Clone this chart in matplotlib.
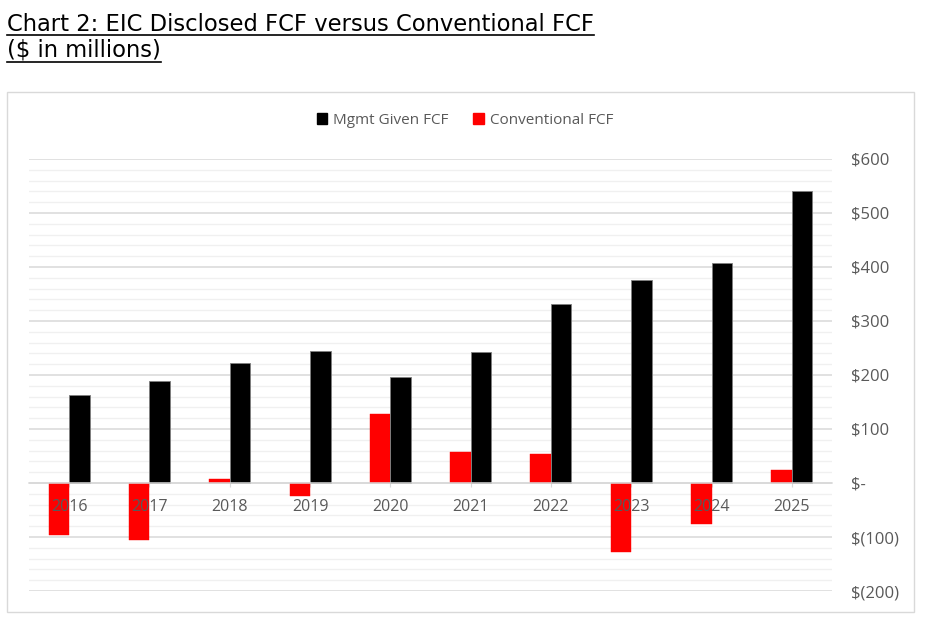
import matplotlib
matplotlib.use('Agg')
import matplotlib.pyplot as plt
import matplotlib.patches as mpatches
from matplotlib.lines import Line2D
from matplotlib.ticker import MultipleLocator, FuncFormatter
import numpy as np

# ===== data =====
years = ['2016', '2017', '2018', '2019', '2020', '2021', '2022', '2023', '2024', '2025']
mgmt_fcf = [163, 189, 222, 245, 197, 243, 331, 376, 407, 541]
conv_fcf = [-96, -105, 7, -24, 127, 58, 54, -127, -76, 24]

GRAY_TXT = '#595959'
plt.rcParams['font.family'] = ['Open Sans', 'DejaVu Sans']


def dollar_fmt(v, pos):
    v = int(round(v))
    if v == 0:
        return '$-'
    if v < 0:
        return f'$({abs(v)})'
    return f'${v}'


fig = plt.figure(figsize=(9.31, 6.21), dpi=100)
fig.patch.set_facecolor('white')
W, H = 931, 621

# chart border
fig.add_artist(mpatches.Rectangle((7 / W, 1 - 612 / H), (914 - 7) / W, (612 - 92) / H,
                                  transform=fig.transFigure, fill=False,
                                  edgecolor='#D9D9D9', linewidth=1))

ax = fig.add_axes([29 / W, 1 - 591 / H, (832 - 29) / W, (591 - 159) / H])
x = np.arange(len(years))
bw = 0.255
ax.bar(x - bw / 2, conv_fcf, bw, color='#FF0000', edgecolor='#FF0000', linewidth=0.3,
       label='Conventional FCF', zorder=3)
ax.bar(x + bw / 2, mgmt_fcf, bw, color='black', edgecolor='#7F7F7F', linewidth=0.6,
       label='Mgmt Given FCF', zorder=3)

ax.set_xlim(-0.5, len(years) - 0.5)
ax.set_ylim(-200, 600)
ax.yaxis.set_major_locator(MultipleLocator(100))
ax.yaxis.set_minor_locator(MultipleLocator(20))
ax.yaxis.set_major_formatter(FuncFormatter(dollar_fmt))
ax.yaxis.tick_right()
ax.tick_params(axis='y', which='both', length=0, pad=14, labelsize=12, labelcolor=GRAY_TXT)
for lab in ax.get_yticklabels():
    lab.set_horizontalalignment('left')
ax.grid(axis='y', which='major', color='#D9D9D9', linewidth=1.1, zorder=0)
ax.grid(axis='y', which='minor', color='#F0F0F0', linewidth=1.0, zorder=0)
ax.set_axisbelow(True)

for s in ['top', 'left', 'right']:
    ax.spines[s].set_visible(False)
ax.spines['bottom'].set_position(('data', 0))
ax.spines['bottom'].set_color('#D9D9D9')
ax.spines['bottom'].set_linewidth(1.1)
ax.spines['bottom'].set_zorder(4)
ax.set_xticks(x)
ax.set_xticklabels([])
ax.tick_params(axis='x', length=3, color='#D9D9D9')

# category labels drawn over the bars, just below the zero line
for xi, yr in zip(x, years):
    ax.annotate(yr, (xi, 0), xytext=(0, -24), textcoords='offset pixels',
                ha='center', va='center', fontsize=11.5, color=GRAY_TXT, zorder=10)

handles = [mpatches.Patch(color='black', label='Mgmt Given FCF'),
           mpatches.Patch(color='#FF0000', label='Conventional FCF')]
fig.legend(handles=handles, loc='center', bbox_to_anchor=(465 / W, 1 - 120 / H), ncol=2,
           frameon=False, fontsize=11, labelcolor=GRAY_TXT, handlelength=0.7,
           handleheight=0.7, handletextpad=0.4, columnspacing=1.6)

# titles with underline
t1 = fig.text(7 / W, 1 - 31 / H, 'Chart 2: EIC Disclosed FCF versus Conventional FCF',
              fontsize=16.3, color='black', family=['DejaVu Sans'], va='baseline')
t2 = fig.text(7 / W, 1 - 57 / H, '($ in millions)', fontsize=16.3, color='black',
              family=['DejaVu Sans'], va='baseline')
r = fig.canvas.get_renderer()
for t, yline in [(t1, 35), (t2, 62)]:
    bb = t.get_window_extent(r)
    fig.add_artist(Line2D([bb.x0 / W, bb.x1 / W], [1 - yline / H, 1 - yline / H],
                          transform=fig.transFigure, color='black', linewidth=1.2))

fig.savefig('out.png', dpi=100)
